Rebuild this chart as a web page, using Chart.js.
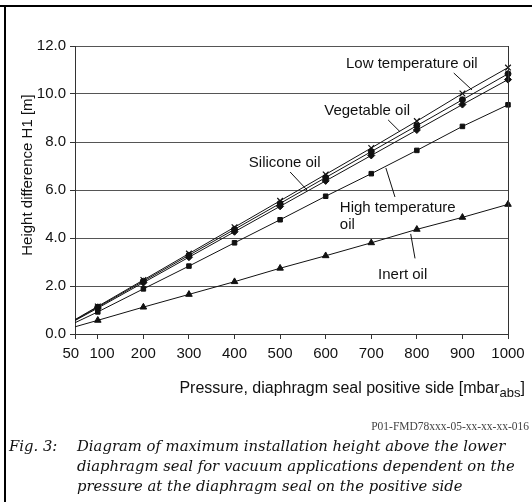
<!DOCTYPE html>
<html>
<head>
<meta charset="utf-8">
<script src="https://cdn.jsdelivr.net/npm/chart.js@4/dist/chart.umd.min.js"></script>
<style>
  html, body { margin: 0; padding: 0; background: #fff; }
  #wrap { position: relative; width: 532px; height: 502px; overflow: hidden; }
  #topline { position: absolute; left: 0; top: 5px; width: 532px; height: 2px; background: #000; }
  #leftline { position: absolute; left: 4px; top: 5px; width: 2px; height: 497px; background: #000; }
  canvas { position: absolute; left: 0; top: 0; }
  .cap { position: absolute; font-family: "DejaVu Serif", serif; font-style: italic; font-size: 14.8px; color: #111; white-space: nowrap; line-height: 20px; }
  #figno { left: 9px; top: 436px; }
  #captext { left: 77px; top: 436px; }
  #pid { position: absolute; right: 3px; top: 420px; font-family: "Liberation Serif", serif; font-size: 11.5px; color: #444; white-space: nowrap; }
</style>
</head>
<body>
<div id="wrap">
  <canvas id="c" width="532" height="502"></canvas>
  <div id="topline"></div>
  <div id="leftline"></div>
  <div id="pid">P01-FMD78xxx-05-xx-xx-xx-016</div>
  <div class="cap" id="figno">Fig. 3:</div>
  <div class="cap" id="captext">Diagram of maximum installation height above the lower<br>diaphragm seal for vacuum applications dependent on the<br>pressure at the diaphragm seal on the positive side</div>
</div>
<script>
// ---- data ----
const pressure   = [50, 100, 200, 300, 400, 500, 600, 700, 800, 900, 1000];
const lowTempOil = [0.60, 1.15, 2.25, 3.35, 4.45, 5.55, 6.65, 7.75, 8.87, 10.02, 11.10];
const vegetableOil = [0.58, 1.12, 2.20, 3.28, 4.36, 5.44, 6.52, 7.60, 8.68, 9.76, 10.84];
const siliconeOil  = [0.56, 1.08, 2.14, 3.20, 4.26, 5.32, 6.38, 7.44, 8.50, 9.56, 10.60];
const highTempOil  = [0.47, 0.92, 1.88, 2.83, 3.80, 4.76, 5.74, 6.68, 7.65, 8.65, 9.55];
const inertOil     = [0.30, 0.57, 1.12, 1.65, 2.18, 2.74, 3.26, 3.80, 4.36, 4.86, 5.40];
const xTicks = [50, 100, 200, 300, 400, 500, 600, 700, 800, 900, 1000];
const yTicks = [0, 2, 4, 6, 8, 10, 12];

// labels with leader lines (data coordinates)
const labels = [
  { text: ["Low temperature oil"], x: 789, y: 11.25, align: "center", line: [[881, 10.875], [921, 10.17]] },
  { text: ["Vegetable oil"], x: 691, y: 9.29, align: "center", line: [[737, 8.92], [763, 8.43]] },
  { text: ["Silicone oil"], x: 510, y: 7.125, align: "center", line: [[522, 6.75], [559, 6.0]] },
  { text: ["High temperature", "oil"], x: 631, y: 5.25, align: "left", line: [[732, 6.92], [752, 5.71]] },
  { text: ["Inert oil"], x: 715, y: 2.46, align: "left", line: [[786.5, 4.17], [796, 3.15]] }
];

const toXY = arr => pressure.map((p, i) => ({ x: p, y: arr[i] }));
const FONT = '"Liberation Sans", Arial, sans-serif';

function ds(label, arr, style, r) {
  return {
    label, data: toXY(arr),
    borderColor: '#111', backgroundColor: '#111', borderWidth: 1,
    pointStyle: style,
    pointRadius: ctx => ctx.dataIndex === 0 ? 0 : r,
    pointBorderWidth: style === 'crossRot' ? 1.2 : 1,
    pointBorderColor: '#111', pointBackgroundColor: '#111',
    tension: 0, clip: false
  };
}

const overlay = {
  id: 'overlay',
  afterDraw(chart) {
    const c = chart.ctx, xs = chart.scales.x, ys = chart.scales.y, a = chart.chartArea;
    c.save();
    // right border
    c.strokeStyle = '#333'; c.lineWidth = 1;
    c.beginPath(); c.moveTo(Math.round(a.right) + 0.5, a.top); c.lineTo(Math.round(a.right) + 0.5, a.bottom); c.stroke();
    // labels
    c.fillStyle = '#111'; c.font = '15px ' + FONT; c.textBaseline = 'middle';
    labels.forEach(l => {
      c.textAlign = l.align;
      const px = xs.getPixelForValue(l.x), py = ys.getPixelForValue(l.y);
      l.text.forEach((t, i) => c.fillText(t, px, py + i * 17));
      c.strokeStyle = '#111'; c.lineWidth = 1;
      c.beginPath();
      c.moveTo(xs.getPixelForValue(l.line[0][0]), ys.getPixelForValue(l.line[0][1]));
      c.lineTo(xs.getPixelForValue(l.line[1][0]), ys.getPixelForValue(l.line[1][1]));
      c.stroke();
    });
    // y title
    c.save();
    c.translate(28, 175);
    c.rotate(-Math.PI / 2);
    c.textAlign = 'center'; c.textBaseline = 'middle';
    c.font = '15px ' + FONT;
    c.fillText('Height difference H1 [m]', 0, 0);
    c.restore();
    // x title with subscript
    const main = 'Pressure, diaphragm seal positive side [mbar', sub = 'abs', end = ']';
    c.font = '16px ' + FONT; const w1 = c.measureText(main).width, w3 = c.measureText(end).width;
    c.font = '13px ' + FONT; const w2 = c.measureText(sub).width;
    const right = 525, base = 393;
    let x0 = right - w1 - w2 - w3;
    c.textAlign = 'left'; c.textBaseline = 'alphabetic';
    c.font = '16px ' + FONT; c.fillText(main, x0, base);
    c.font = '13px ' + FONT; c.fillText(sub, x0 + w1, base + 4);
    c.font = '16px ' + FONT; c.fillText(end, x0 + w1 + w2, base);
    c.restore();
  }
};

new Chart(document.getElementById('c'), {
  type: 'line',
  data: {
    datasets: [
      ds('Low temperature oil', lowTempOil, 'crossRot', 4),
      ds('Vegetable oil', vegetableOil, 'circle', 3),
      ds('Silicone oil', siliconeOil, 'rectRot', 3.5),
      ds('High temperature oil', highTempOil, 'rect', 3.2),
      ds('Inert oil', inertOil, 'triangle', 3.8)
    ]
  },
  options: {
    responsive: false, animation: false,
    layout: { padding: { left: 0, right: 24, top: 46, bottom: 108 } },
    plugins: { legend: { display: false }, tooltip: { enabled: false } },
    scales: {
      x: {
        type: 'linear', min: 50, max: 1000,
        afterBuildTicks: s => { s.ticks = xTicks.map(v => ({ value: v })); },
        afterFit: s => { s.height = 60; },
        grid: { drawOnChartArea: false, drawTicks: true, tickLength: 5, tickColor: '#333', color: '#333' },
        border: { display: true, color: '#333', width: 1 },
        ticks: {
          color: '#111', font: { family: FONT, size: 15 }, padding: 6, maxRotation: 0, autoSkip: false,
          callback: v => v === 50 ? '50  ' : (v === 100 ? '  100' : String(v))
        }
      },
      y: {
        min: 0, max: 12,
        afterBuildTicks: s => { s.ticks = yTicks.map(v => ({ value: v })); },
        afterFit: s => { s.width = 75; },
        grid: { color: '#555', lineWidth: 1, tickLength: 5, tickColor: '#333' },
        border: { display: true, color: '#333', width: 1 },
        ticks: { color: '#111', font: { family: FONT, size: 15 }, padding: 4, callback: v => Number(v).toFixed(1) }
      }
    }
  },
  plugins: [overlay]
});
</script>
</body>
</html>
